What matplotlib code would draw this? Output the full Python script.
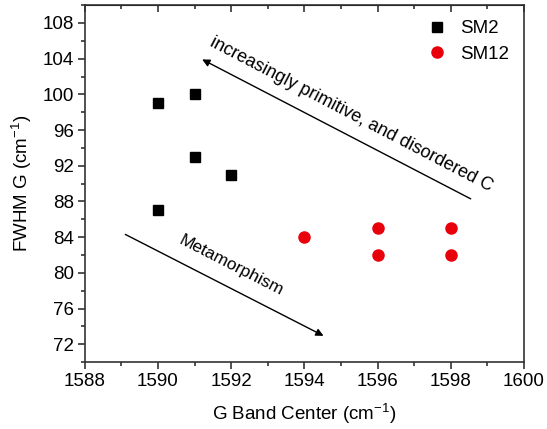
import matplotlib.pyplot as plt

plt.rcParams["font.family"] = ["Liberation Sans", "DejaVu Sans"]
plt.rcParams["font.size"] = 13.5
plt.rcParams["mathtext.fontset"] = "custom"
plt.rcParams["mathtext.rm"] = "Liberation Sans"

# SM2 samples
sm2_x = [1590, 1591, 1591, 1592, 1590]
sm2_y = [99, 100, 93, 91, 87]
# SM12 samples
sm12_x = [1594, 1596, 1596, 1598, 1598]
sm12_y = [84, 85, 82, 85, 82]

fig = plt.figure(figsize=(5.47, 4.29), dpi=100)
ax = fig.add_axes([0.155, 0.156, 0.803, 0.832])

ax.plot(sm2_x, sm2_y, "s", color="black", markersize=7, linestyle="none", label="SM2")
ax.plot(sm12_x, sm12_y, "o", color="#e8000b", markersize=8, linestyle="none", label="SM12")

ax.set_xlim(1588, 1600)
ax.set_ylim(70, 110)
ax.set_xticks(range(1588, 1601, 2))
ax.set_yticks(range(72, 109, 4))
ax.set_xticks(range(1589, 1600, 2), minor=True)
ax.set_yticks(range(70, 111, 2), minor=True)
ax.tick_params(which="both", direction="out", top=False, right=False, width=1.2,
               color="#333333", labelsize=13.5, pad=3)
ax.tick_params(which="major", length=5)
ax.tick_params(which="minor", length=3)
for s in ax.spines.values():
    s.set_linewidth(1.2)
    s.set_color("#333333")

# mirrored ticks on top, pointing in
top = ax.secondary_xaxis("top")
top.set_xticks(range(1588, 1601, 2))
top.set_xticks(range(1589, 1600, 2), minor=True)
top.tick_params(which="both", direction="in", labeltop=False, width=1.2, color="#333333")
top.tick_params(which="major", length=5)
top.tick_params(which="minor", length=3)

ax.set_xlabel("G Band Center (cm$^{\\mathregular{-1}}$)", fontsize=13.5, labelpad=8)
ax.set_ylabel("FWHM G (cm$^{\\mathregular{-1}}$)", fontsize=13.5, labelpad=6)

ax.annotate("", xy=(1591.14, 104.06), xytext=(1598.61, 88.15),
            arrowprops=dict(arrowstyle="-|>", color="black", lw=1.0, mutation_scale=11))
ax.text(1595.28, 97.7, "increasingly primitive, and disordered C", rotation=-27.5,
        rotation_mode="anchor", ha="center", va="center", fontsize=13)

ax.annotate("", xy=(1594.59, 72.8), xytext=(1589.04, 84.45),
            arrowprops=dict(arrowstyle="-|>", color="black", lw=1.0, mutation_scale=11))
ax.text(1592.0, 80.8, "Metamorphism", rotation=-27.1,
        rotation_mode="anchor", ha="center", va="center", fontsize=12.5)

ax.legend(loc="upper right", frameon=False, handletextpad=0.5, borderaxespad=0.4,
          fontsize=13.5, labelspacing=0.45, handlelength=1.5)

fig.savefig("out.png", dpi=100)
